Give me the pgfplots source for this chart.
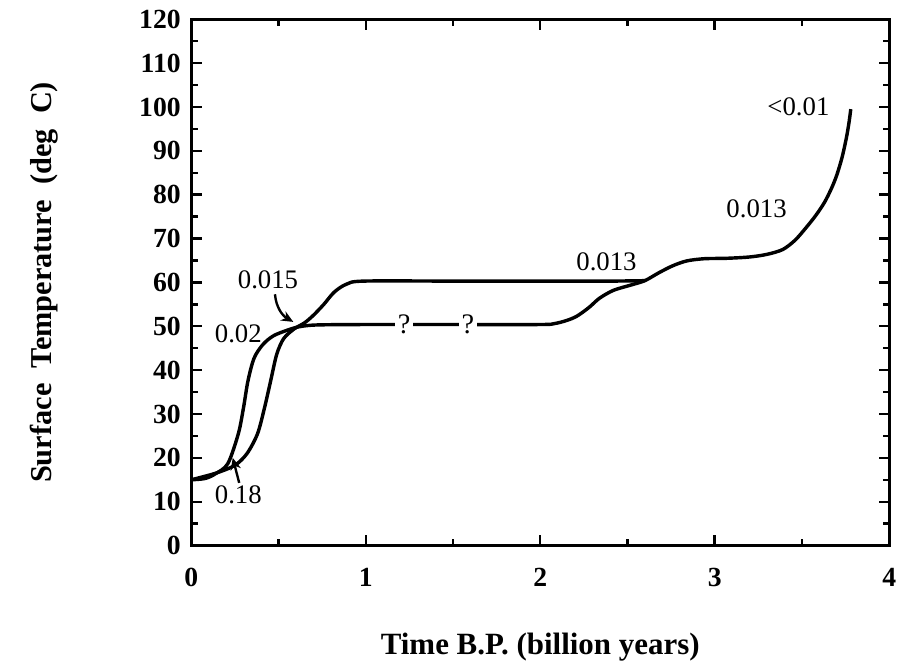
\documentclass[border=0pt]{standalone}
\usepackage{fontspec}
\setmainfont{Liberation Serif}
\usepackage{pgfplots}
\pgfplotsset{compat=1.18}
\usetikzlibrary{arrows.meta}

\begin{document}
\begin{tikzpicture}
\begin{axis}[
    scale only axis,
    width=234.7pt, height=177pt,
    xmin=0, xmax=4, ymin=0, ymax=120,
    xtick={0,1,2,3,4}, minor xtick={0.5,1.5,2.5,3.5},
    ytick={0,10,...,120}, minor ytick={5,15,...,115},
    tick align=inside,
    major tick length=3.5pt, minor tick length=2.2pt,
    axis line style={line width=1pt},
    every tick/.style={black, line width=0.8pt},
    /pgf/number format/assume math mode=true,
    tick label style={font=\fontsize{9.3}{10}\selectfont\bfseries},
    xticklabel style={yshift=-4pt},
    xlabel={Time B.P. (billion years)},
    ylabel={Surface~ Temperature~ (deg~ C)},
    xlabel style={at={(axis description cs:0.5,-0.192)}, anchor=center, font=\fontsize{10.4}{12}\selectfont\bfseries},
    ylabel style={at={(axis description cs:-0.21,0.5)}, anchor=center, font=\fontsize{10.2}{12}\selectfont\bfseries},
    clip=false,
]
% early-rising curve: plateau near 50, then up to 100
\addplot[black, line width=1.15pt, smooth] coordinates {
    (0,15) (0.08,15.3) (0.14,16.4) (0.21,18.7) (0.27,25.5) (0.30,31.5)
    (0.325,37.5) (0.36,42.7) (0.41,45.8) (0.47,47.8) (0.55,49.1) (0.62,49.9)
    (0.72,50.3) (1.0,50.4) (1.5,50.4) (2.0,50.4) (2.08,50.6) (2.15,51.3)
    (2.21,52.3) (2.28,54.3) (2.34,56.4) (2.42,58.2) (2.52,59.4) (2.6,60.4)
    (2.68,62.2) (2.76,63.8) (2.84,64.9) (2.94,65.4) (3.07,65.5) (3.2,65.8)
    (3.3,66.4) (3.39,67.5) (3.46,69.6) (3.52,72.3) (3.58,75.3) (3.63,78.3)
    (3.67,81.5) (3.70,84.5) (3.73,88.5) (3.755,93) (3.77,96.5) (3.78,99.5)
};
% late-rising curve: plateau near 60
\addplot[black, line width=1.15pt, smooth] coordinates {
    (0,15) (0.14,16.5) (0.25,18.3) (0.32,21) (0.38,25.5) (0.42,31.4)
    (0.455,37.5) (0.49,43.6) (0.53,47.2) (0.59,49.4) (0.65,50.8) (0.70,52.5)
    (0.76,55) (0.82,57.8) (0.89,59.6) (0.99,60.3) (1.5,60.3) (2.0,60.3)
    (2.4,60.3) (2.6,60.4)
};
\node[fill=white, inner sep=1pt, font=\fontsize{9.5}{10}\selectfont] at (axis cs:1.22,50.4) {?};
\node[fill=white, inner sep=1pt, font=\fontsize{9.5}{10}\selectfont] at (axis cs:1.585,50.4) {?};

\node[font=\fontsize{9}{10}\selectfont] at (axis cs:0.44,60.7) {0.015};
\node[font=\fontsize{9}{10}\selectfont] at (axis cs:0.27,48.3) {0.02};
\node[font=\fontsize{9}{10}\selectfont] at (axis cs:0.27,11.5) {0.18};
\node[font=\fontsize{9}{10}\selectfont] at (axis cs:2.38,64.6) {0.013};
\node[font=\fontsize{9}{10}\selectfont] at (axis cs:3.24,76.7) {0.013};
\node[font=\fontsize{9}{10}\selectfont] at (axis cs:3.48,100) {<0.01};

\draw[-{Stealth[length=4pt,width=3.5pt]}, line width=0.8pt]
    (axis cs:0.48,57.3) to[out=-85, in=150] (axis cs:0.585,51);
\draw[-{Stealth[length=4pt,width=3.5pt]}, line width=0.8pt]
    (axis cs:0.275,14.3) -- (axis cs:0.238,20);
\end{axis}
% page frame matching the reference margins
\path (current axis.south west) ++(-64.3pt,-38.7pt) rectangle ([shift={(3pt,5pt)}]current axis.north east);
\end{tikzpicture}
\end{document}
